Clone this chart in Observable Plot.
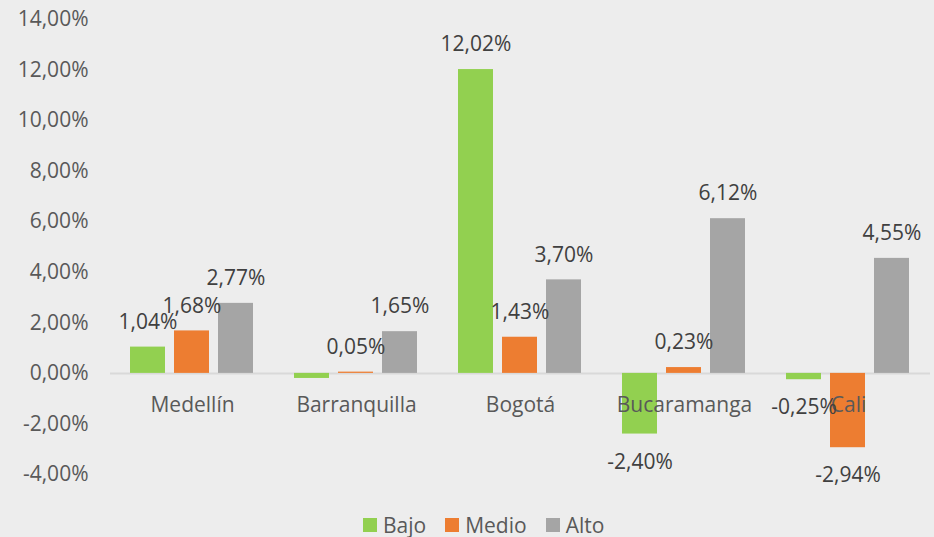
<!DOCTYPE html>
<html>
<head>
<meta charset="utf-8">
<script src="https://cdn.jsdelivr.net/npm/d3@7"></script>
<script src="https://cdn.jsdelivr.net/npm/@observablehq/plot@0.6"></script>
<style>
  html, body { margin: 0; padding: 0; background: #EDEDED; }
  body { width: 934px; height: 537px; position: relative; overflow: hidden; font-family: "Open Sans", sans-serif; }
  #legend { position: absolute; left: 363px; top: 511px; display: flex; align-items: center; font-size: 21px; color: #595959; line-height: 28px; }
  #legend .item { display: flex; align-items: center; margin-right: 19px; }
  #legend .sw { width: 14px; height: 14px; margin-right: 6px; }
</style>
</head>
<body>
<div id="chart"></div>
<div id="legend"></div>
<script>
const categories = ["Medellín", "Barranquilla", "Bogotá", "Bucaramanga", "Cali"];
const series = ["Bajo", "Medio", "Alto"];
const colors = ["#92D050", "#ED7D31", "#A5A5A5"];
const bajo  = [1.04, -0.20, 12.02, -2.40, -0.25];
const medio = [1.68,  0.05,  1.43,  0.23, -2.94];
const alto  = [2.77,  1.65,  3.70,  6.12,  4.55];
const hiddenLabels = [["Barranquilla", "Bajo"]];
const yTicks = [-4, -2, 0, 2, 4, 6, 8, 10, 12, 14];

const fmt = v => v.toFixed(2).replace(".", ",") + "%";
const seriesValues = [bajo, medio, alto];
const data = [];
categories.forEach((c, i) => series.forEach((s, j) => data.push({cat: c, series: s, value: seriesValues[j][i]})));
const labelled = data.filter(d => !hiddenLabels.some(([c, s]) => c === d.cat && s === d.series));

const chart = Plot.plot({
  width: 934,
  height: 500,
  marginTop: 19,
  marginBottom: 26,
  marginLeft: 110,
  marginRight: 4,
  style: {background: "transparent", fontFamily: "Open Sans, sans-serif", fontSize: "21px", color: "#595959"},
  fx: {domain: categories, padding: 0, axis: null},
  x: {domain: series, paddingInner: 0.2, paddingOuter: 0.443, axis: null},
  y: {domain: [-4, 14], ticks: yTicks, tickFormat: fmt, tickSize: 0, tickPadding: 22, label: null},
  color: {domain: series, range: colors},
  marks: [
    Plot.ruleY([0], {stroke: "#D9D9D9", strokeWidth: 2}),
    Plot.barY(data, {fx: "cat", x: "series", y: "value", fill: "series"}),
    Plot.text(categories, {fx: d => d, y: 0, dy: 32, text: d => d, fill: "#595959", fontSize: 21, frameAnchor: "middle"}),
    Plot.text(labelled.filter(d => d.value >= 0), {fx: "cat", x: "series", y: "value", text: d => fmt(d.value),
      dy: -25, fill: "#404040", fontSize: 21}),
    Plot.text(labelled.filter(d => d.value < 0), {fx: "cat", x: "series", y: "value", text: d => fmt(d.value),
      dy: 28, fill: "#404040", fontSize: 21})
  ]
});
document.getElementById("chart").appendChild(chart);

const legend = document.getElementById("legend");
series.forEach((s, i) => {
  const item = document.createElement("div");
  item.className = "item";
  const sw = document.createElement("span");
  sw.className = "sw";
  sw.style.background = colors[i];
  const t = document.createElement("span");
  t.textContent = s;
  item.appendChild(sw);
  item.appendChild(t);
  legend.appendChild(item);
});
</script>
</body>
</html>
